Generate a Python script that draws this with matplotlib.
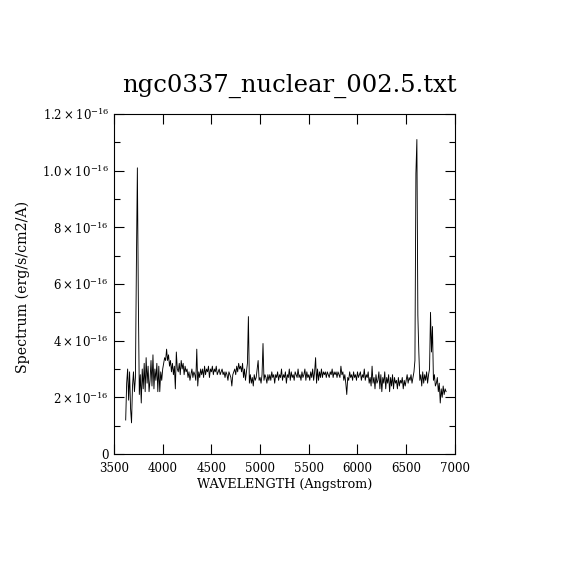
import numpy as np
import matplotlib
matplotlib.use("Agg")
import matplotlib.pyplot as plt
from matplotlib.ticker import MultipleLocator, FixedLocator, FixedFormatter

# flux in units of 1e-17 erg/s/cm2/A, sampled every 10 A starting at 3620 A
start_wave = 3620
step_wave = 10
flux_1e17 = [
    1.2, 2.5, 3.0, 1.9, 2.9, 1.6, 1.1, 2.4, 2.9, 2.2,
    2.7, 6.7, 10.1, 5.4, 2.1, 2.8, 1.8, 3.0, 2.3, 3.2,
    2.2, 3.4, 2.5, 3.1, 2.2, 2.6, 3.3, 2.4, 3.5, 2.3,
    3.0, 2.6, 3.2, 2.2, 3.1, 2.2, 2.9, 2.6, 3.0, 3.2,
    3.4, 3.3, 3.7, 3.3, 3.5, 3.1, 3.3, 2.9, 3.2, 2.8,
    3.1, 2.3, 3.6, 3.0, 2.9, 3.2, 2.8, 3.3, 3.0, 3.2,
    2.8, 3.1, 2.9, 3.0, 2.7, 2.9, 2.6, 2.8, 3.0, 2.7,
    2.9, 2.8, 2.6, 3.7, 2.4, 2.9, 2.7, 3.0, 2.8, 3.0,
    2.7, 3.1, 2.8, 3.0, 2.9, 3.1, 2.7, 3.0, 2.9, 3.1,
    2.8, 3.0, 2.9, 3.1, 2.8, 2.9, 3.0, 2.8, 2.9, 3.0,
    2.8, 2.9, 2.7, 2.9, 2.8, 2.6, 2.9, 2.8, 2.7, 2.4,
    2.8, 2.9, 3.0, 2.8, 3.1, 2.9, 3.2, 3.0, 3.1, 2.9,
    3.2, 2.7, 3.0, 2.6, 2.9, 3.2, 4.85, 2.5, 2.8, 2.5,
    2.7, 2.4, 2.8, 2.6, 2.7, 3.0, 3.3, 2.6, 2.7, 2.5,
    2.8, 3.9, 2.6, 2.8, 2.7, 2.5, 2.8, 2.6, 2.8, 2.6,
    2.9, 2.7, 2.8, 2.5, 2.8, 2.7, 2.9, 2.6, 2.8, 2.7,
    3.0, 2.6, 2.8, 2.7, 2.9, 2.5, 2.8, 2.7, 3.0, 2.6,
    2.9, 2.7, 2.8, 2.6, 2.9, 2.8, 2.7, 3.0, 2.7, 2.8,
    2.6, 2.9, 2.7, 2.8, 3.0, 2.6, 2.9, 2.7, 2.8, 2.6,
    2.9, 2.7, 3.0, 2.6, 2.9, 3.4, 2.5, 3.0, 2.6, 2.9,
    2.7, 3.0, 2.7, 2.9, 2.8, 2.9, 2.7, 2.9, 2.8, 2.7,
    2.9, 2.8, 3.0, 2.7, 2.9, 2.8, 2.9, 2.7, 2.9, 2.8,
    2.7, 3.1, 2.8, 2.9, 2.6, 2.8, 2.5, 2.1, 2.7, 2.6,
    2.9, 2.7, 2.8, 2.6, 2.9, 2.7, 2.8, 2.6, 2.9, 2.7,
    2.8, 2.9, 2.6, 2.8, 2.7, 3.0, 2.6, 2.8, 2.7, 2.9,
    2.5, 2.7, 2.4, 3.1, 2.5, 2.7, 2.3, 2.8, 2.5, 2.6,
    2.9, 2.3, 2.8, 2.2, 2.7, 2.5, 2.9, 2.3, 2.7, 2.5,
    2.8, 2.2, 2.7, 2.4, 2.8, 2.3, 2.7, 2.5, 2.6, 2.3,
    2.7, 2.4, 2.6, 2.5, 2.7, 2.3, 2.6, 2.4, 2.6, 2.8,
    2.5, 2.7, 2.6, 2.8, 2.5, 2.7, 2.9, 3.3, 9.9, 11.1,
    4.9, 3.6, 2.6, 2.8, 2.4, 2.9, 2.5, 2.8, 2.6, 2.9,
    2.5, 2.8, 3.0, 5.0, 3.6, 4.5, 2.6, 2.8, 2.4, 2.5,
    2.7, 2.2, 2.5, 1.8, 2.3, 2.0, 2.4, 2.1, 2.3, 2.2,
]

ytick_values = [0, 0.2e-16, 0.4e-16, 0.6e-16, 0.8e-16, 1.0e-16, 1.2e-16]
ytick_labels = ["0", r"$2\times10^{-16}$", r"$4\times10^{-16}$", r"$6\times10^{-16}$",
                r"$8\times10^{-16}$", r"$1.0\times10^{-16}$", r"$1.2\times10^{-16}$"]

plt.rcParams["font.family"] = "DejaVu Serif"
plt.rcParams["mathtext.fontset"] = "dejavuserif"

flux = np.array(flux_1e17) * 1e-17
wave = start_wave + step_wave * np.arange(len(flux))

fig = plt.figure(figsize=(5.7, 5.7), dpi=100)
ax = fig.add_axes([0.2, 0.2035, 0.598, 0.5965])
ax.plot(wave, flux, color="black", lw=0.65)

ax.set_xlim(3500, 7000)
ax.set_ylim(0, 1.2e-16)
ax.xaxis.set_major_locator(MultipleLocator(500))
ax.yaxis.set_major_locator(FixedLocator(ytick_values))
ax.yaxis.set_major_formatter(FixedFormatter(ytick_labels))
ax.yaxis.set_minor_locator(MultipleLocator(0.1e-16))
ax.tick_params(which="both", direction="in", top=True, right=True, labelsize=8.5, width=0.8)
ax.tick_params(which="major", length=7)
ax.tick_params(which="minor", length=4)
ax.tick_params(axis="x", pad=5.5)
for s in ax.spines.values():
    s.set_linewidth(0.8)

ax.set_xlabel("WAVELENGTH (Angstrom)", fontsize=9.2, labelpad=2.5)
ax.set_ylabel("Spectrum (erg/s/cm2/A)", fontsize=10.2)
ax.yaxis.set_label_coords(-0.245, 0.49)
fig.text(0.507, 1 - 92 / 570, "ngc0337_nuclear_002.5.txt", fontsize=17.5,
         ha="center", va="baseline")

fig.savefig("out.png", dpi=100)
